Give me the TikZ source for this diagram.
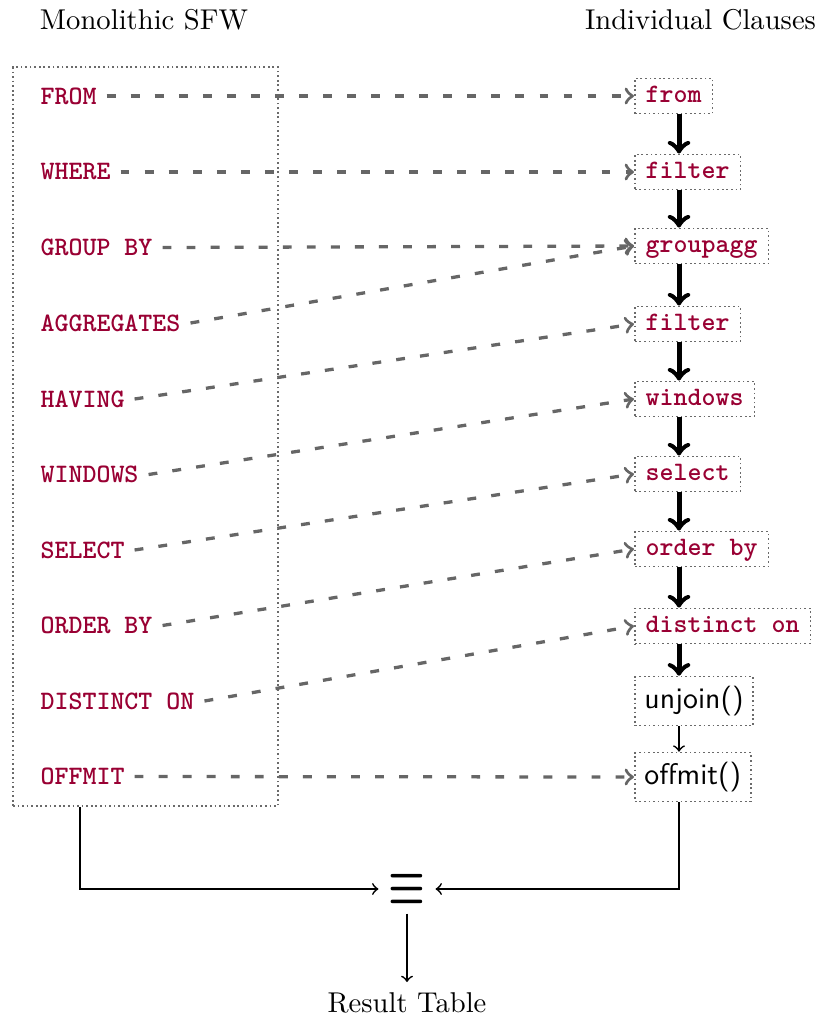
\documentclass[tikz,border=0pt]{standalone}
\usepackage{graphicx}
\usetikzlibrary{arrows}
\definecolor{kwred}{HTML}{990033}
\definecolor{linkgray}{HTML}{666666}
\definecolor{boxgray}{HTML}{6A6A6A}
\newcommand{\kwfont}{\fontsize{9.3pt}{11pt}\selectfont\ttfamily\bfseries\color{kwred}}
\tikzset{
  kwlabel/.style={anchor=west, font=\kwfont},
  kwbox/.style={anchor=west, draw=boxgray, densely dotted, line width=0.6pt,
    font=\kwfont, inner xsep=3.8pt, inner ysep=2.1pt, text height=6.3pt, text depth=1.8pt},
  sfbox/.style={anchor=west, draw=boxgray, densely dotted, line width=0.6pt,
    font=\fontsize{10.4pt}{12pt}\selectfont\sffamily, inner sep=3.33pt},
  link/.style={draw=linkgray, line width=1.15pt, dash pattern=on 3.1pt off 5.3pt, ->},
  flow/.style={line width=1.75pt, ->},
  plain/.style={line width=0.6pt, ->},
}
\begin{document}
\begin{tikzpicture}[x=0.3493pt, y=-0.3493pt]
\useasboundingbox (0,0) rectangle (822,1020);

% column headings
\node[anchor=base] (lhead) at (144,29) {Monolithic SFW};
\node[anchor=base] (rhead) at (700.5,29) {Individual Clauses};

% the monolithic query block
\node[draw=boxgray, densely dotted, line width=0.6pt, inner sep=0pt,
      minimum width=92.56pt, minimum height=258.1pt] (sfw) at (145.5,436.5) {};

\node[kwlabel] (lfrom)     at (30.5,96)    {FROM};
\node[kwlabel] (lwhere)    at (30.5,172)   {WHERE};
\node[kwlabel] (lgroup)    at (30.5,247.5) {GROUP BY};
\node[kwlabel] (laggr)     at (30.5,323)   {AGGREGATES};
\node[kwlabel] (lhaving)   at (30.5,399)   {HAVING};
\node[kwlabel] (lwindows)  at (30.5,474.5) {WINDOWS};
\node[kwlabel] (lselect)   at (30.5,550)   {SELECT};
\node[kwlabel] (lorder)    at (30.5,625.5) {ORDER BY};
\node[kwlabel] (ldistinct) at (30.5,701)   {DISTINCT ON};
\node[kwlabel] (loffmit)   at (30.5,776.5) {OFFMIT};

% the chain of individual clauses
\node[kwbox] (from)     at (634,96)  {from};
\node[kwbox] (filtera)  at (634,172) {filter};
\node[kwbox] (groupagg) at (634,246) {groupagg};
\node[kwbox] (filterb)  at (634,324) {filter};
\node[kwbox] (windows)  at (634,399) {windows};
\node[kwbox] (select)   at (634,474) {select};
\node[kwbox] (orderby)  at (634,549) {order by};
\node[kwbox] (distinct) at (634,626) {distinct on};
\node[sfbox] (unjoin)   at (634,701) {unjoin()};
\node[sfbox] (offmit)   at (634,777) {offmit()};

\coordinate (colx) at (679,0);
\coordinate (leftx) at (80,0);

\draw[flow] (from.south -| colx)     -- (filtera.north -| colx);
\draw[flow] (filtera.south -| colx)  -- (groupagg.north -| colx);
\draw[flow] (groupagg.south -| colx) -- (filterb.north -| colx);
\draw[flow] (filterb.south -| colx)  -- (windows.north -| colx);
\draw[flow] (windows.south -| colx)  -- (select.north -| colx);
\draw[flow] (select.south -| colx)   -- (orderby.north -| colx);
\draw[flow] (orderby.south -| colx)  -- (distinct.north -| colx);
\draw[flow] (distinct.south -| colx) -- (unjoin.north -| colx);
\draw[plain] (unjoin.south -| colx)  -- (offmit.north -| colx);

% clause mapping
\draw[link] (lfrom.east)     -- (from.west);
\draw[link] (lwhere.east)    -- (filtera.west);
\draw[link] (lgroup.east)    -- (groupagg.west);
\draw[link] (laggr.east)     -- (groupagg.west);
\draw[link] (lhaving.east)   -- (filterb.west);
\draw[link] (lwindows.east)  -- (windows.west);
\draw[link] (lselect.east)   -- (select.west);
\draw[link] (lorder.east)    -- (orderby.west);
\draw[link] (ldistinct.east) -- (distinct.west);
\draw[link] (loffmit.east)   -- (offmit.west);

% equivalence and result
\node (eq) at (407,889) {\scalebox{1}[1.4]{\Large\boldmath$\equiv$}};
\node[anchor=base] (result) at (407,1012) {Result Table};

\draw[plain] (sfw.south -| leftx) |- (eq.west);
\draw[plain] (offmit.south -| colx) |- (eq.east);
\draw[plain] (eq.south) -- (result.north);
\end{tikzpicture}
\end{document}
